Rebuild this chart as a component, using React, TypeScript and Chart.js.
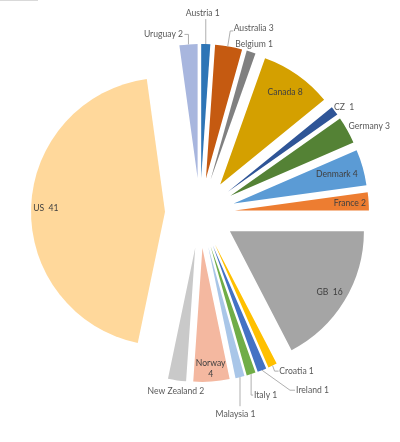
import React, { useEffect, useRef } from "react";
import { Chart, registerables, ArcElement, PieController } from "chart.js";

// ---- data ----
const countries = [
  "Austria", "Australia", "Belgium", "Canada", "CZ", "Germany", "Denmark", "France",
  "GB", "Croatia", "Ireland", "Italy", "Malaysia", "Norway", "New Zealand", "US", "Uruguay",
];
const counts = [1, 3, 1, 8, 1, 3, 4, 2, 16, 1, 1, 1, 1, 4, 2, 41, 2];
const labelSeparators = [" ", " ", " ", " ", "  ", " ", " ", " ", "  ", " ", " ", " ", " ", "\n", " ", "  ", " "];

// ---- styles ----
const sliceColors = [
  "#2E75B6", "#C55A11", "#808080", "#D4A000", "#2F5597", "#548235", "#5B9BD5", "#ED7D31",
  "#A5A5A5", "#FFC000", "#4472C4", "#70AD47", "#A9C6E8", "#F4B8A0", "#C9C9C9", "#FFD89B", "#A8B6DE",
];
const EXPLODE = 35; // px each slice is pulled out along its bisector
const RADIUS = 134;

// Arc that is pulled out by a fixed distance without growing (Excel-style explosion)
class ExplodedArc extends ArcElement {
  static id = "explodedArc";
  draw(ctx: CanvasRenderingContext2D, area?: any) {
    const half = ((this as any).startAngle + (this as any).endAngle) / 2;
    ctx.save();
    ctx.translate(Math.cos(half) * EXPLODE, Math.sin(half) * EXPLODE);
    super.draw(ctx as any, area);
    ctx.restore();
  }
}
class ExplodedPieController extends PieController {
  static id = "explodedPie";
  static defaults = { dataElementType: "explodedArc" };
}

Chart.register(...registerables);
Chart.register(ExplodedArc as any, ExplodedPieController as any);

type Placement =
  | { mode: "in"; k: number }
  | { mode: "out"; dx: number; dy: number; leader?: number[][] };

const placements: Placement[] = [
  { mode: "out", dx: -3, dy: -31, leader: [[0, 0], [0, -25]] }, // Austria
  { mode: "out", dx: 25, dy: -18.5, leader: [[-1, 0], [1.5, -15.5], [4.5, -15.5]] }, // Australia
  { mode: "out", dx: 3, dy: -8 }, // Belgium
  { mode: "in", k: 0.84 }, // Canada
  { mode: "out", dx: 9.5, dy: -4 }, // CZ
  { mode: "out", dx: 22, dy: -4 }, // Germany
  { mode: "in", k: 0.8 }, // Denmark
  { mode: "in", k: 0.86 }, // France
  { mode: "in", k: 0.87 }, // GB
  { mode: "out", dx: 24, dy: 5.5, leader: [[0, 0], [2, 5.5], [6, 5.5]] }, // Croatia
  { mode: "out", dx: 50.5, dy: 20, leader: [[0, 0], [28, 20], [33, 20]] }, // Ireland
  { mode: "out", dx: 14.5, dy: 21, leader: [[0, 0], [0, 21], [2, 21]] }, // Italy
  { mode: "out", dx: -4.5, dy: 37, leader: [[0, 0], [0, 29]] }, // Malaysia
  { mode: "in", k: 0.9 }, // Norway
  { mode: "out", dx: -1, dy: 10.5 }, // New Zealand
  { mode: "in", k: 0.89 }, // US
  { mode: "out", dx: -25, dy: -10, leader: [[0, 0], [0, -10], [-4, -10]] }, // Uruguay
];

const FONT = '8.6px Lato, "Liberation Sans", sans-serif';

const labelPlugin = {
  id: "sliceLabels",
  afterDatasetsDraw(chart: any) {
    const meta = chart.getDatasetMeta(0);
    const ctx: CanvasRenderingContext2D = chart.ctx;
    ctx.save();
    ctx.font = FONT;
    ctx.textAlign = "center";
    ctx.textBaseline = "middle";
    meta.data.forEach((arc: any, i: number) => {
      const { x, y, startAngle, endAngle, outerRadius } = arc.getProps(
        ["x", "y", "startAngle", "endAngle", "outerRadius"],
        true
      );
      const mid = (startAngle + endAngle) / 2;
      const cx = Math.cos(mid);
      const cy = Math.sin(mid);
      const apexX = x + cx * EXPLODE;
      const apexY = y + cy * EXPLODE;
      const p = placements[i];
      const text = countries[i] + labelSeparators[i] + counts[i];
      const lines = text.split("\n");
      let px: number, py: number;
      if (p.mode === "in") {
        px = apexX + cx * outerRadius * p.k;
        py = apexY + cy * outerRadius * p.k;
        ctx.fillStyle = "#404040";
      } else {
        const ax = apexX + cx * outerRadius;
        const ay = apexY + cy * outerRadius;
        px = ax + p.dx;
        py = ay + p.dy;
        ctx.fillStyle = "#595959";
        if (p.leader) {
          ctx.strokeStyle = "#A6A6A6";
          ctx.lineWidth = 0.9;
          ctx.beginPath();
          p.leader.forEach((pt, j) => {
            const lx = ax + pt[0];
            const ly = ay + pt[1];
            if (j === 0) ctx.moveTo(lx, ly);
            else ctx.lineTo(lx, ly);
          });
          ctx.stroke();
        }
      }
      const lh = 11;
      lines.forEach((ln, j) => {
        ctx.fillText(ln, px, py + (j - (lines.length - 1) / 2) * lh);
      });
    });
    ctx.restore();
  },
};

export default function App() {
  const ref = useRef<HTMLCanvasElement | null>(null);
  useEffect(() => {
    if (!ref.current) return;
    const chart = new Chart(ref.current, {
      type: "explodedPie" as any,
      data: {
        labels: countries,
        datasets: [
          {
            data: counts,
            backgroundColor: sliceColors,
            borderWidth: 0,
            offset: 0,
          } as any,
        ],
      },
      options: {
        animation: false,
        responsive: false,
        maintainAspectRatio: false,
        devicePixelRatio: 1,
        radius: RADIUS,
        layout: { padding: { top: 0, bottom: 16, left: 0, right: 0 } },
        plugins: {
          legend: { display: false },
          tooltip: { enabled: false },
        },
        events: [],
      } as any,
      plugins: [labelPlugin],
    });
    return () => chart.destroy();
  }, []);
  return (
    <div style={{ position: "absolute", left: 0, top: 0, width: 400, height: 442, background: "#fff" }}>
      <div style={{ position: "absolute", left: 0, top: 0, width: 38, height: 1, background: "#D9D9D9" }} />
      <canvas ref={ref} width={400} height={442} style={{ display: "block" }} />
    </div>
  );
}
